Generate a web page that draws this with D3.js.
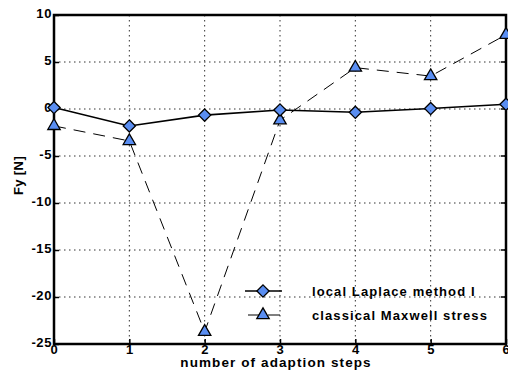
<!DOCTYPE html>
<html>
<head>
<meta charset="utf-8">
<script src="https://cdn.jsdelivr.net/npm/d3@7"></script>
<style>
  body { margin: 0; background: #fff; }
</style>
</head>
<body>
<div id="chart"></div>
<script>
const steps = [0, 1, 2, 3, 4, 5, 6];
const laplace = [0.15, -1.8, -0.65, -0.1, -0.35, 0.05, 0.5];
const maxwell = [-1.8, -3.4, -23.7, -1.2, 4.4, 3.5, 7.9];
const yTicks = [10, 5, 0, -5, -10, -15, -20, -25];
const seriesNames = ['local Laplace method I', 'classical Maxwell stress'];

const width = 508, height = 370;
const margin = { left: 54, right: 2, top: 15, bottom: 26 };
const blue = '#5a8ef2';
const font = '"Liberation Sans", Arial, sans-serif';

const svg = d3.select('#chart').append('svg')
    .attr('width', width)
    .attr('height', height)
    .style('font-family', font)
    .style('font-weight', 'bold');

const x = d3.scaleLinear().domain([0, 6]).range([margin.left, width - margin.right]);
const y = d3.scaleLinear().domain([-25, 10]).range([height - margin.bottom, margin.top]);

// grid
const grid = svg.append('g')
    .attr('stroke', '#333')
    .attr('stroke-width', 1)
    .attr('stroke-dasharray', '1.5 3.5');
grid.selectAll('line.v')
    .data(steps.slice(1, -1))
    .join('line')
    .attr('x1', d => x(d)).attr('x2', d => x(d))
    .attr('y1', y(10)).attr('y2', y(-25));
grid.selectAll('line.h')
    .data(yTicks.slice(1, -1))
    .join('line')
    .attr('class', 'h')
    .attr('x1', x(0)).attr('x2', x(6))
    .attr('y1', d => y(d)).attr('y2', d => y(d));

// axes
const xAxis = svg.append('g')
    .attr('transform', `translate(0,${y(-25)})`)
    .call(d3.axisBottom(x).tickValues(steps).tickSize(-5).tickPadding(2).tickFormat(d => String(d)));
const yAxis = svg.append('g')
    .attr('transform', `translate(${x(0)},0)`)
    .call(d3.axisLeft(y).tickValues(yTicks).tickSize(-5).tickPadding(2).tickFormat(d => String(d)));
[xAxis, yAxis].forEach(a => {
    a.select('.domain').remove();
    a.attr('font-family', font).attr('font-weight', 'bold');
    a.selectAll('line').attr('stroke', '#000').attr('stroke-width', 1.5);
    a.selectAll('text').attr('font-size', 13).attr('letter-spacing', 0.6).attr('fill', '#000');
});
xAxis.selectAll('text').attr('dy', '0.6em');
yAxis.selectAll('text').attr('dy', '0.2em');

// right side ticks
svg.append('g').selectAll('line')
    .data(yTicks)
    .join('line')
    .attr('x1', x(6) - 5).attr('x2', x(6))
    .attr('y1', d => y(d)).attr('y2', d => y(d))
    .attr('stroke', '#000').attr('stroke-width', 1.5);

svg.append('rect')
    .attr('x', x(0)).attr('y', y(10))
    .attr('width', x(6) - x(0)).attr('height', y(-25) - y(10))
    .attr('fill', 'none')
    .attr('stroke', '#000')
    .attr('stroke-width', 2.5);

// lines
const line = d3.line().x((d, i) => x(steps[i])).y(d => y(d));
svg.append('path')
    .datum(maxwell)
    .attr('d', line)
    .attr('fill', 'none')
    .attr('stroke', '#000')
    .attr('stroke-width', 1)
    .attr('stroke-dasharray', '12 8');
svg.append('path')
    .datum(laplace)
    .attr('d', line)
    .attr('fill', 'none')
    .attr('stroke', '#000')
    .attr('stroke-width', 1.6);

const diamond = d3.symbol().type(d3.symbolDiamond2).size(95);
const triangle = d3.symbol().type(d3.symbolTriangle2).size(110);

svg.append('g').selectAll('path')
    .data(maxwell)
    .join('path')
    .attr('d', triangle)
    .attr('transform', (d, i) => `translate(${x(steps[i])},${y(d)})`)
    .attr('fill', blue).attr('stroke', '#000').attr('stroke-width', 1.3);
svg.append('g').selectAll('path')
    .data(laplace)
    .join('path')
    .attr('d', diamond)
    .attr('transform', (d, i) => `translate(${x(steps[i])},${y(d)})`)
    .attr('fill', blue).attr('stroke', '#000').attr('stroke-width', 1.3);

// legend
const legend = svg.append('g');
const legendY = [291, 315];
[0, 1].forEach(i => {
    const g = legend.append('g').attr('transform', `translate(0,${legendY[i]})`);
    g.append('line')
        .attr('x1', 245).attr('x2', 282)
        .attr('stroke', '#000')
        .attr('stroke-width', i === 0 ? 1.6 : 1)
        .attr('stroke-dasharray', i === 0 ? null : '12 8')
        .attr('stroke-dashoffset', i === 0 ? 0 : -3);
    g.append('path')
        .attr('d', i === 0 ? diamond : triangle)
        .attr('transform', 'translate(263,0)')
        .attr('fill', blue).attr('stroke', '#000').attr('stroke-width', 1.3);
    g.append('text')
        .attr('x', 312).attr('y', 5)
        .attr('font-size', 13)
        .attr('letter-spacing', 1.1)
        .text(seriesNames[i]);
});

// axis titles
svg.append('text')
    .attr('x', (x(0) + x(6)) / 2 - 4).attr('y', height - 3)
    .attr('text-anchor', 'middle')
    .attr('font-size', 13.5)
    .attr('letter-spacing', 1.1)
    .text('number of adaption steps');
svg.append('text')
    .attr('transform', `translate(23,${(y(10) + y(-25)) / 2 - 4}) rotate(-90)`)
    .attr('text-anchor', 'middle')
    .attr('font-size', 13)
    .attr('letter-spacing', 0.4)
    .text('Fy [N]');
</script>
</body>
</html>
